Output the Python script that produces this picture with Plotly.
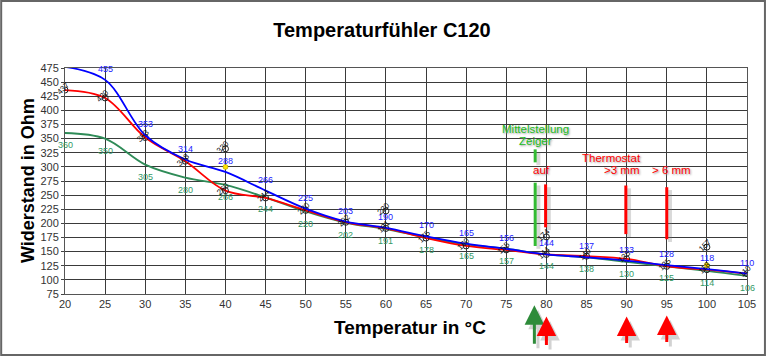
import plotly.graph_objects as go

# ---------------- data ----------------
temps = [20, 25, 30, 35, 40, 45, 50, 55, 60, 65, 70, 75, 80, 85, 90, 95, 100, 105]
blue_vals = [477, 454, 356, 313, 291, 258, 226, 203, 192, 177, 164, 155, 145, 140, 134, 126, 119, 111]
red_vals = [436, 422, 352, 310, 258, 245, 223, 202, 191, 174, 160, 153, 145, 142, 137, 124, 118, 111]
green_vals = [360, 350, 304, 281, 268, 246, 221, 201, 190, 175, 163, 155, 145, 140, 132, 124, 116, 107]

blue_labels = ["", "455", "353", "314", "288", "266", "225", "203", "190", "170", "165", "156",
               "144", "137", "133", "128", "118", "110"]
green_labels = ["360", "350", "305", "280", "266", "244", "220", "202", "191", "178", "165", "157",
                "144", "138", "130", "125", "114", "106"]
red_labels = ["437", "420", "353", "308", "260", "244", "220", "202", "191", "175", "160", "155",
              "144", "140", "135", "125", "118", "110"]

extra_x = [40, 60, 80, 100]
extra_vals = [332, 222, 176, 158]
extra_labels = ["330", "220", "174", "157"]

yellow_x = [40, 100]
yellow_vals = [300, 126]

# vertical indicator bars
green_bar_x = 78.6
green_bar_segments = [(308, 331), (160, 272)]
red_bar_x = [79.9, 89.9, 95.0]
red_bar_bottom = [193, 181, 172]
red_bar_top = [269, 267, 264]

# arrows under the x axis
arrow_x = [78.5, 80.0, 90.0, 95.0]
arrow_colors = ["#2E8B3A", "#FF0000", "#FF0000", "#FF0000"]
arrow_len = [40, 30, 28, 28]
arrow_head = [-0.05, -0.1, -0.1, -0.095]

x_ticks = list(range(20, 106, 5))
y_ticks = list(range(75, 476, 25))

FONT = "Liberation Sans, Arial, sans-serif"
BLUE = "#0000FF"
RED = "#FF0000"
GREEN = "#2E8B57"
LGREEN = "#22BB22"

fig = go.Figure()

# bar shadows
shadow = "rgba(120,120,120,0.28)"
for (b, t) in green_bar_segments:
    fig.add_trace(go.Scatter(x=[green_bar_x + 0.4, green_bar_x + 0.4], y=[b - 5, t - 5], mode="lines",
                             line=dict(color=shadow, width=4), hoverinfo="skip", showlegend=False))
for xx, b, t in zip(red_bar_x, red_bar_bottom, red_bar_top):
    fig.add_trace(go.Scatter(x=[xx + 0.4, xx + 0.4], y=[b - 5, t - 5], mode="lines",
                             line=dict(color=shadow, width=4), hoverinfo="skip", showlegend=False))
# bars
for (b, t) in green_bar_segments:
    fig.add_trace(go.Scatter(x=[green_bar_x, green_bar_x], y=[b, t], mode="lines",
                             line=dict(color="#33BB33", width=3), hoverinfo="skip", showlegend=False))
for xx, b, t in zip(red_bar_x, red_bar_bottom, red_bar_top):
    fig.add_trace(go.Scatter(x=[xx, xx], y=[b, t], mode="lines",
                             line=dict(color=RED, width=3), hoverinfo="skip", showlegend=False))

# series
fig.add_trace(go.Scatter(x=temps, y=green_vals, mode="lines",
                         line=dict(color=GREEN, width=1.8, shape="spline", smoothing=1.0),
                         showlegend=False))
fig.add_trace(go.Scatter(x=temps, y=red_vals, mode="lines+markers",
                         marker=dict(symbol="circle-open", size=6, color="#222", line=dict(width=1)),
                         line=dict(color=RED, width=1.8, shape="spline", smoothing=1.0),
                         showlegend=False))
fig.add_trace(go.Scatter(x=temps, y=blue_vals, mode="lines",
                         line=dict(color=BLUE, width=1.8, shape="spline", smoothing=1.0),
                         showlegend=False))
fig.add_trace(go.Scatter(x=extra_x, y=extra_vals, mode="markers",
                         marker=dict(symbol="circle-open", size=6, color="#222", line=dict(width=1)),
                         showlegend=False))
fig.add_trace(go.Scatter(x=yellow_x, y=yellow_vals, mode="markers",
                         marker=dict(symbol="circle", size=5, color="#FFE000",
                                     line=dict(color="#999900", width=0.5)),
                         showlegend=False))

annotations = []
# data labels
for xx, yy, tx in zip(temps, blue_vals, blue_labels):
    if tx:
        annotations.append(dict(x=xx, y=yy, text=tx, showarrow=False, yshift=11,
                                font=dict(family=FONT, size=9, color="#2222FF")))
for xx, yy, tx in zip(temps, green_vals, green_labels):
    annotations.append(dict(x=xx, y=yy, text=tx, showarrow=False, yshift=-12,
                            font=dict(family=FONT, size=9, color="#339966")))
# rotated black labels
for xx, yy, tx in list(zip(temps, red_vals, red_labels)) + list(zip(extra_x, extra_vals, extra_labels)):
    annotations.append(dict(x=xx, y=yy, text=tx, showarrow=False, textangle=-45,
                            xshift=-2, yshift=2,
                            font=dict(family=FONT, size=8, color="#111")))

txt_shadow = "1px 1px 2px #999"
annotations += [
    dict(x=78.6, y=367, text="Mittelstellung", showarrow=False,
         font=dict(family=FONT, size=11.5, color=LGREEN, shadow=txt_shadow)),
    dict(x=78.6, y=345, text="Zeiger", showarrow=False,
         font=dict(family=FONT, size=11.5, color=LGREEN, shadow=txt_shadow)),
    dict(x=79.4, y=294, text="auf", showarrow=False,
         font=dict(family=FONT, size=11.5, color=RED, shadow=txt_shadow)),
    dict(x=88.1, y=315, text="Thermostat", showarrow=False,
         font=dict(family=FONT, size=11.5, color=RED, shadow=txt_shadow)),
    dict(x=89.3, y=294, text=">3 mm", showarrow=False,
         font=dict(family=FONT, size=11.5, color=RED, shadow=txt_shadow)),
    dict(x=95.6, y=294, text="> 6 mm", showarrow=False,
         font=dict(family=FONT, size=11.5, color=RED, shadow=txt_shadow)),
]

# arrows below the axis
for xx, col, ln, hy in zip(arrow_x, arrow_colors, arrow_len, arrow_head):
    annotations.append(dict(x=xx + 0.45, y=hy - 0.02, xref="x", yref="paper", text="",
                            showarrow=True, ax=0, ay=ln, arrowhead=2, arrowsize=1.3,
                            arrowwidth=3, arrowcolor="rgba(110,110,110,0.3)"))
    annotations.append(dict(x=xx, y=hy, xref="x", yref="paper", text="",
                            showarrow=True, ax=0, ay=ln, arrowhead=2, arrowsize=1.3,
                            arrowwidth=3, arrowcolor=col))

# axis titles
annotations += [
    dict(x=-37 / 684, y=0.5, xref="paper", yref="paper", text="<b>Widerstand in Ohm</b>",
         showarrow=False, textangle=-90, xanchor="center", yanchor="middle",
         font=dict(family=FONT, size=18, color="#000")),
    dict(x=(411 - 65) / 684, y=-(327 - 294) / 226, xref="paper", yref="paper",
         text="<b>Temperatur in °C</b>", showarrow=False, xanchor="center", yanchor="middle",
         font=dict(family=FONT, size=19, color="#000")),
]

fig.update_layout(
    width=768, height=356,
    margin=dict(l=65, r=19, t=68, b=62),
    paper_bgcolor="white", plot_bgcolor="white",
    title=dict(text="<b>Temperaturfühler C120</b>", x=382 / 768, xanchor="center",
               y=1 - 30 / 356, yanchor="middle", font=dict(family=FONT, size=20, color="#000")),
    annotations=annotations,
    shapes=[dict(type="rect", xref="paper", yref="paper",
                 x0=-64 / 684, x1=1 + 18 / 684, y0=-61 / 226, y1=1 + 67 / 226,
                 line=dict(color="#666", width=2), fillcolor="rgba(0,0,0,0)", layer="below")],
    xaxis=dict(range=[20, 105], tickvals=x_ticks, ticktext=[str(v) for v in x_ticks],
               showgrid=True, gridcolor="#3a3a3a", gridwidth=1, zeroline=False,
               showline=True, linecolor="#555", linewidth=1, mirror=True,
               ticks="", tickfont=dict(family=FONT, size=11, color="#333")),
    yaxis=dict(range=[75, 475], tickvals=y_ticks, ticktext=[str(v) for v in y_ticks],
               showgrid=True, gridcolor="#3a3a3a", gridwidth=1, zeroline=False,
               showline=True, linecolor="#555", linewidth=1, mirror=True,
               ticks="outside", ticklen=3, tickcolor="#444",
               tickfont=dict(family=FONT, size=11, color="#333")),
    font=dict(family=FONT),
)

fig.write_html("out.html", config={"displayModeBar": False},
               post_script="document.body.style.margin='0';document.body.style.overflow='hidden';")
